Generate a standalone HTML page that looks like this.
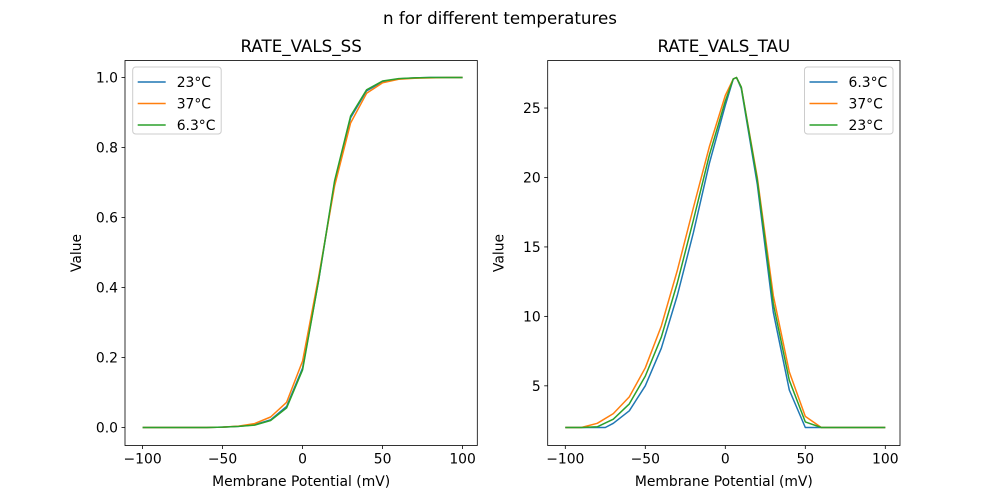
<!DOCTYPE html><html><head><meta charset="utf-8"><style>body{margin:0;background:#fff}svg{display:block;font-family:"DejaVu Sans","Liberation Sans",sans-serif}</style></head><body>
<svg id="s" width="1000" height="500" xmlns="http://www.w3.org/2000/svg">
<rect width="1000" height="500" fill="#fff"/>
<text x="500" y="24" font-size="16.7" text-anchor="middle">n for different temperatures</text>
<g id="g"></g>
</svg>
<script>
const g=document.getElementById('g');let h='';
const C=['#1f77b4','#ff7f0e','#2ca02c'];
function ax(x0,title,yt,ymap,ylab,series,leg,lx){
 const x1=x0+352.3,y0=60.5,y1=445.5;
 const xm=v=>x0+17.6+(v+100)*1.6;
 h+=`<text x="${(x0+x1)/2}" y="52" font-size="16.7" text-anchor="middle">${title}</text>`;
 series.forEach((s,i)=>{h+=`<polyline fill="none" stroke="${C[i]}" stroke-width="1.5" stroke-linejoin="round" points="${s.map(p=>xm(p[0]).toFixed(1)+','+ymap(p[1]).toFixed(1)).join(' ')}"/>`;});
 h+=`<rect x="${x0}" y="${y0}" width="352.3" height="385" fill="none" stroke="#000" stroke-width="0.8"/>`;
 [-100,-50,0,50,100].forEach(v=>{const x=xm(v);h+=`<line x1="${x}" y1="${y1}" x2="${x}" y2="${y1+3.5}" stroke="#000" stroke-width="0.8"/><text x="${x}" y="${y1+18}" font-size="13.9" text-anchor="middle">${v<0?'\u2212'+(-v):v}</text>`;});
 yt.forEach(v=>{const y=ymap(v);h+=`<line x1="${x0-3.5}" y1="${y}" x2="${x0}" y2="${y}" stroke="#000" stroke-width="0.8"/><text x="${x0-7}" y="${y+5}" font-size="13.9" text-anchor="end">${ylab(v)}</text>`;});
 h+=`<text x="${(x0+x1)/2}" y="486" font-size="13.9" text-anchor="middle">Membrane Potential (mV)</text>`;
 h+=`<text transform="translate(${x0-44},253) rotate(-90)" font-size="13.9" text-anchor="middle">Value</text>`;
 h+=`<rect x="${lx}" y="67" width="88.5" height="67" rx="3" fill="#fff" fill-opacity="0.8" stroke="#ccc"/>`;
 leg.forEach((t,i)=>{const y=82+i*21.5;h+=`<line x1="${lx+5}" y1="${y}" x2="${lx+33}" y2="${y}" stroke="${C[i]}" stroke-width="1.5"/><text x="${lx+44}" y="${y+5}" font-size="13.9">${t}</text>`;});
}
const mk=(arr)=>{const a=[];const xs=[-100,-90,-80,-70,-60,-50,-40,-30,-20,-10,0,10,20,30,40,50,60,70,80,90,100];xs.forEach((x,i)=>a.push([x,arr[i]]));return a;};
const S1=mk([0,0,0,0,0,0.001,0.003,0.008,0.022,0.06,0.17,0.42,0.70,0.885,0.962,0.988,0.996,0.999,1,1,1]);
const S2=mk([0,0,0,0,0,0.001,0.004,0.011,0.03,0.072,0.19,0.43,0.69,0.87,0.955,0.985,0.995,0.998,0.999,1,1]);
const S3=mk([0,0,0,0,0,0.001,0.003,0.007,0.02,0.056,0.165,0.42,0.705,0.89,0.965,0.99,0.997,0.999,1,1,1]);
ax(125,'RATE_VALS_SS',[0,.2,.4,.6,.8,1],v=>427.5-v*350,v=>v.toFixed(1),[S1,S2,S3],['23°C','37°C','6.3°C'],132.7);
const tail=a=>{for(let v=70;v<=100;v+=10)a.push([v,2]);return a;};
const B=tail([[-100,2],[-90,2],[-80,2],[-75,2],[-70,2.3],[-60,3.2],[-50,5],[-40,7.7],[-30,11.5],[-20,16],[-10,21],[0,25.2],[5,27.1],[7,27.2],[10,26.4],[20,19.5],[30,10.3],[40,4.7],[50,2],[60,2]]);
const O=tail([[-100,2],[-90,2],[-80,2.3],[-70,3],[-60,4.2],[-50,6.3],[-40,9.3],[-30,13.3],[-20,17.8],[-10,22.2],[0,25.9],[5,27.1],[7,27.2],[10,26.5],[20,20],[30,11.5],[40,6],[50,2.8],[60,2]]);
const G=tail([[-100,2],[-90,2],[-80,2.05],[-70,2.6],[-60,3.7],[-50,5.7],[-40,8.5],[-30,12.4],[-20,16.9],[-10,21.6],[0,25.5],[5,27.1],[7,27.2],[10,26.5],[20,19.8],[30,10.9],[40,5.4],[50,2.4],[60,2]]);
ax(547.7,'RATE_VALS_TAU',[5,10,15,20,25],v=>427.5-(v-2)*13.89,v=>v,[B,O,G],['6.3°C','37°C','23°C'],804.5);
g.innerHTML=h;
</script>
</body></html>
